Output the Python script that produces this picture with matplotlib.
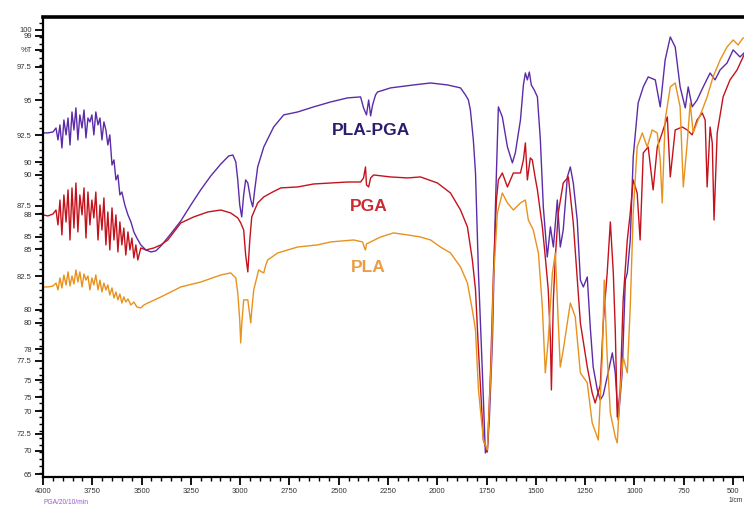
import matplotlib
matplotlib.use("Agg")
import matplotlib.pyplot as plt
from matplotlib.ticker import MultipleLocator, FixedLocator

plt.rcParams['font.family'] = ['Liberation Sans', 'DejaVu Sans']

# ---------------- data (wavenumber, %T) ----------------
pla_pga_wn = [4000, 3975, 3949, 3934, 3924, 3914, 3904, 3894, 3883, 3873, 3863, 3853, 3843, 3833,
              3823, 3813, 3802, 3792, 3782, 3772, 3762, 3752, 3742, 3732, 3721, 3711, 3701, 3691,
              3681, 3671, 3661, 3650, 3640, 3630, 3620, 3610, 3600, 3585, 3569, 3554, 3539, 3524,
              3504, 3478, 3453, 3428, 3402, 3352, 3301, 3250, 3200, 3149, 3098, 3058, 3037, 3022,
              3012, 3002, 2992, 2982, 2972, 2961, 2946, 2936, 2926, 2911, 2880, 2830, 2779, 2708,
              2627, 2541, 2455, 2389, 2374, 2359, 2348, 2338, 2328, 2313, 2303, 2237, 2120, 2034,
              1948, 1882, 1857, 1842, 1832, 1817, 1806, 1791, 1771, 1756, 1746, 1736, 1720, 1705,
              1690, 1670, 1644, 1619, 1604, 1578, 1563, 1553, 1543, 1533, 1523, 1508, 1492, 1477,
              1462, 1442, 1426, 1411, 1391, 1376, 1361, 1340, 1325, 1310, 1290, 1274, 1259, 1239,
              1224, 1209, 1188, 1173, 1158, 1138, 1112, 1097, 1082, 1062, 1046, 1036, 1021, 1006,
              981, 955, 930, 894, 869, 844, 818, 793, 768, 742, 727, 707, 682, 651, 616, 591, 565,
              530, 499, 464, 444]
pla_pga_t = [92.68, 92.68, 92.75, 93.03, 92.18, 93.25, 91.61, 93.60, 92.54, 93.74, 91.82, 94.17, 92.89, 94.46,
             92.18, 93.96, 93.03, 94.31, 92.32, 93.74, 93.46, 93.96, 92.54, 94.17, 93.25, 93.74, 92.18, 93.46,
             92.89, 91.82, 92.54, 90.40, 90.76, 89.34, 89.69, 88.27, 88.48, 87.56, 86.85, 86.35, 85.64, 85.21,
             84.72, 84.36, 84.22, 84.29, 84.64, 85.50, 86.42, 87.56, 88.63, 89.62, 90.47, 91.04, 91.11, 90.62,
             89.34, 87.56, 86.71, 88.27, 89.34, 89.12, 87.91, 87.42, 88.63, 90.26, 91.68, 93.10, 93.96, 94.17,
             94.53, 94.88, 95.17, 95.24, 94.46, 93.96, 95.02, 93.89, 94.67, 95.38, 95.59, 95.88, 96.09, 96.23,
             96.09, 95.88, 95.38, 95.02, 94.31, 92.18, 89.83, 82.73, 75.62, 69.93, 70.14, 72.27, 77.96, 87.42,
             94.53, 93.82, 91.68, 90.55, 91.26, 93.60, 96.09, 96.94, 96.45, 97.01, 96.09, 95.73, 95.24, 92.18,
             87.42, 83.86, 86.00, 84.57, 87.91, 84.57, 85.78, 89.55, 90.26, 89.12, 86.49, 82.22, 81.73, 82.44,
             78.89, 76.04, 74.41, 73.70, 74.05, 75.33, 77.04, 75.62, 72.27, 75.62, 82.22, 82.73, 85.07, 90.97,
             94.81, 95.95, 96.66, 96.45, 94.53, 97.87, 99.50, 98.79, 95.95, 94.46, 95.95, 94.53, 95.02, 95.95,
             96.94, 96.45, 97.16, 97.65, 98.58, 98.08, 98.36]

pga_wn = [4000, 3975, 3949, 3934, 3924, 3914, 3904, 3894, 3883, 3873, 3863, 3853, 3843, 3833,
          3823, 3813, 3802, 3792, 3782, 3772, 3762, 3752, 3742, 3732, 3721, 3711, 3701, 3691,
          3681, 3671, 3661, 3650, 3640, 3630, 3620, 3610, 3600, 3590, 3580, 3569, 3559, 3549,
          3539, 3529, 3519, 3504, 3478, 3438, 3402, 3367, 3301, 3235, 3164, 3098, 3048, 3012,
          2997, 2982, 2972, 2961, 2951, 2941, 2911, 2880, 2835, 2794, 2708, 2627, 2541, 2455,
          2389, 2374, 2364, 2359, 2348, 2338, 2323, 2237, 2151, 2085, 1999, 1933, 1882, 1847,
          1822, 1806, 1791, 1766, 1746, 1730, 1715, 1700, 1690, 1670, 1644, 1614, 1578, 1563,
          1553, 1543, 1528, 1518, 1503, 1492, 1467, 1452, 1437, 1426, 1421, 1411, 1401, 1386,
          1361, 1335, 1310, 1274, 1239, 1214, 1199, 1173, 1158, 1138, 1122, 1107, 1097, 1087,
          1072, 1057, 1036, 1021, 1006, 986, 971, 955, 930, 905, 884, 859, 833, 818, 793, 757,
          732, 707, 682, 656, 641, 631, 616, 605, 596, 580, 550, 515, 479, 449, 444]
pga_t = [86.85, 86.78, 86.92, 87.20, 86.14, 87.91, 85.43, 88.27, 86.35, 88.63, 85.07, 88.77, 85.92, 89.12,
         85.64, 88.27, 86.85, 88.77, 85.21, 88.48, 86.14, 87.91, 86.64, 88.48, 85.07, 87.56, 85.78, 88.06,
         84.72, 87.06, 84.36, 87.35, 85.07, 86.85, 84.22, 86.35, 84.72, 85.92, 84.00, 85.64, 84.36, 85.21,
         83.79, 84.72, 83.65, 84.50, 84.36, 84.50, 84.72, 85.07, 86.28, 86.71, 87.06, 87.20, 86.99, 86.64,
         86.28, 85.78, 84.00, 82.80, 85.07, 86.71, 87.70, 88.13, 88.48, 88.77, 88.84, 89.05, 89.12, 89.19,
         89.19, 89.48, 90.26, 88.98, 88.84, 89.48, 89.69, 89.55, 89.48, 89.55, 89.12, 88.41, 87.20, 86.00,
         83.65, 81.52, 77.25, 70.85, 70.00, 75.62, 82.73, 87.91, 89.34, 89.83, 88.84, 89.83, 89.83, 90.76,
         91.97, 89.34, 90.90, 90.76, 89.48, 88.63, 86.00, 83.86, 81.52, 77.96, 74.41, 80.81, 83.86, 86.99,
         89.12, 89.55, 86.28, 79.17, 76.04, 74.19, 73.48, 74.76, 79.17, 82.73, 86.35, 82.73, 78.67, 72.49,
         74.41, 80.81, 85.07, 86.99, 89.34, 88.41, 85.07, 91.26, 91.68, 88.63, 91.68, 92.68, 93.82, 89.55,
         92.89, 93.10, 92.89, 92.54, 93.60, 94.10, 93.60, 88.84, 93.10, 91.97, 86.49, 92.68, 95.24, 96.45,
         97.16, 98.08, 98.22]

pla_wn = [4000, 3975, 3949, 3934, 3924, 3914, 3904, 3894, 3883, 3873, 3863, 3853, 3843, 3833,
          3823, 3813, 3802, 3792, 3782, 3772, 3762, 3752, 3742, 3732, 3721, 3711, 3701, 3691,
          3681, 3671, 3661, 3650, 3640, 3630, 3620, 3610, 3600, 3590, 3580, 3569, 3554, 3539,
          3524, 3504, 3488, 3468, 3402, 3301, 3200, 3098, 3048, 3022, 3012, 3002, 2997, 2992,
          2982, 2961, 2951, 2946, 2941, 2931, 2906, 2891, 2880, 2870, 2860, 2809, 2708, 2607,
          2541, 2424, 2379, 2369, 2364, 2359, 2338, 2288, 2222, 2151, 2085, 2034, 1984, 1933,
          1882, 1847, 1822, 1806, 1791, 1766, 1746, 1725, 1715, 1695, 1670, 1644, 1614, 1578,
          1553, 1538, 1513, 1487, 1467, 1452, 1437, 1416, 1401, 1386, 1376, 1361, 1340, 1325,
          1300, 1274, 1239, 1214, 1183, 1163, 1153, 1138, 1122, 1097, 1087, 1072, 1057, 1036,
          1021, 1006, 986, 960, 935, 910, 884, 869, 859, 844, 818, 793, 768, 752, 732, 717, 702,
          677, 656, 631, 601, 565, 530, 499, 474, 449, 444]
pla_t = [81.73, 81.73, 81.80, 82.01, 81.52, 82.37, 81.66, 82.58, 81.87, 82.80, 81.80, 82.51, 81.94, 82.94,
         82.08, 82.80, 81.73, 82.65, 82.22, 82.51, 81.52, 82.37, 81.87, 82.58, 81.52, 82.22, 81.37, 82.01,
         81.52, 81.87, 81.16, 81.66, 80.95, 81.37, 80.81, 81.23, 80.59, 81.02, 80.66, 80.88, 80.45, 80.66,
         80.31, 80.24, 80.45, 80.59, 81.02, 81.73, 82.08, 82.58, 82.73, 82.37, 81.30, 79.38, 77.75, 79.03,
         80.81, 80.81, 79.74, 79.17, 80.09, 81.52, 82.94, 82.80, 82.73, 83.29, 83.65, 84.15, 84.57, 84.72,
         84.93, 85.07, 84.93, 84.50, 84.36, 84.79, 84.93, 85.28, 85.57, 85.43, 85.28, 85.07, 84.57, 84.15,
         83.15, 82.01, 80.09, 78.67, 74.41, 70.85, 70.14, 76.75, 82.22, 86.99, 88.41, 87.70, 87.20, 87.70,
         87.91, 86.49, 85.78, 84.15, 80.31, 75.62, 77.96, 82.73, 84.15, 79.17, 76.04, 77.25, 79.17, 80.59,
         79.60, 75.62, 74.91, 72.06, 70.85, 76.75, 82.22, 76.75, 72.77, 71.07, 70.64, 74.41, 76.75, 75.62,
         80.31, 86.99, 91.68, 92.68, 91.68, 92.89, 92.68, 90.76, 87.70, 93.60, 95.95, 96.23, 94.53, 88.84,
         91.97, 94.81, 92.68, 93.60, 94.31, 95.24, 96.66, 97.87, 98.79, 99.29, 98.93, 99.43, 99.43]

series_names = ["PLA-PGA", "PGA", "PLA"]
line_colors = ["#5b2ca8", "#c4121c", "#e8921e"]
label_colors = ["#2a1d6e", "#cc2a30", "#eb9d45"]
label_pos = [(2338, 92.82), (2348, 87.42), (2348, 83.08)]

x_major = [4000, 3750, 3500, 3250, 3000, 2750, 2500, 2250, 2000, 1750, 1500, 1250, 1000, 750, 500]
x_labels = ["4000", "3750", "3500", "3250", "3000", "2750", "2500", "2250", "2000",
            "1750", "1500", "1250", "1000", "750", "500"]
y_tick_vals = [100, 99.6, 98.6, 97.4, 95.0, 92.5, 90.6, 89.7, 87.5, 86.9, 85.3, 84.4, 82.5,
               80.1, 79.2, 77.3, 76.5, 75.1, 73.9, 72.9, 71.3, 70.1, 68.4]
y_tick_labels = ["100", "99", "%T", "97.5", "95", "92.5", "90", "90", "87.5", "88", "85", "85",
                 "82.5", "80", "80", "78", "77.5", "75", "75", "70", "72.5", "70", "65"]

# ---------------- figure ----------------
fig = plt.figure(figsize=(7.44, 5.08), dpi=100)
ax = fig.add_axes([43 / 744, 31 / 508, 701 / 744, 460 / 508])

ax.plot(pla_pga_wn, pla_pga_t, color=line_colors[0], lw=1.0)
ax.plot(pga_wn, pga_t, color=line_colors[1], lw=1.0)
ax.plot(pla_wn, pla_t, color=line_colors[2], lw=1.0)

for name, col, (lx, ly) in zip(series_names, label_colors, label_pos):
    ax.text(lx, ly, name, color=col, fontsize=12.5, fontweight='bold',
            ha='center', va='center')

ax.set_xlim(4000, 444)
ax.set_ylim(68.22, 100.92)

ax.xaxis.set_major_locator(FixedLocator(x_major))
ax.set_xticklabels(x_labels)
ax.xaxis.set_minor_locator(MultipleLocator(50))
ax.yaxis.set_major_locator(FixedLocator(y_tick_vals))
ax.set_yticklabels(y_tick_labels)
ax.yaxis.set_minor_locator(MultipleLocator(0.5))

ax.tick_params(axis='both', which='major', direction='out', length=6, width=1.3,
               labelsize=5.5, labelcolor='#333333', pad=2)
ax.tick_params(axis='both', which='minor', direction='out', length=3, width=1.0)

ax.spines['right'].set_visible(False)
ax.spines['top'].set_linewidth(2.6)
ax.spines['left'].set_linewidth(1.6)
ax.spines['bottom'].set_linewidth(1.6)

fig.text(44 / 744, 1 - 502 / 508, "PGA/20/10/min", color="#9a5ad0", fontsize=4.8,
         ha='left', va='center')
fig.text(743 / 744, 1 - 501 / 508, "1/cm", color="#333333", fontsize=4.8,
         ha='right', va='center')

fig.savefig("out.png", dpi=100, facecolor='white')
